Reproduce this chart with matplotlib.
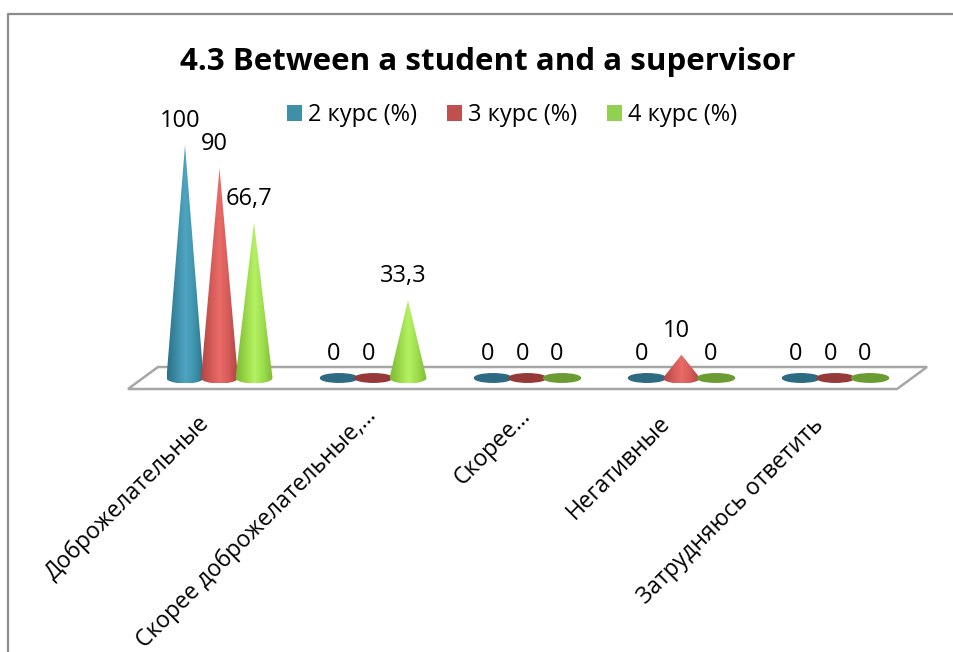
import numpy as np
import matplotlib
matplotlib.use("Agg")
import matplotlib.pyplot as plt
from matplotlib.colors import LinearSegmentedColormap
from matplotlib.patches import Ellipse, Patch, PathPatch, Polygon
from matplotlib.path import Path

plt.rcParams['font.family'] = ['Open Sans', 'DejaVu Sans']

# Данные
categories = ['Доброжелательные', 'Скорее доброжелательные,…', 'Скорее…', 'Негативные', 'Затрудняюсь ответить']
series_names = ['2 курс (%)', '3 курс (%)', '4 курс (%)']
kurs_2 = [100, 0, 0, 0, 0]
kurs_3 = [90, 0, 0, 10, 0]
kurs_4 = [66.7, 33.3, 0, 0, 0]
series = [kurs_2, kurs_3, kurs_4]
value_labels = [['100', '0', '0', '0', '0'],
                ['90', '0', '0', '10', '0'],
                ['66,7', '33,3', '0', '0', '0']]

W, H = 954, 652
PX_X = 154.0      # пикселей на категорию
PX_Y = 2.33       # пикселей на единицу значения
X0, Y0 = 219.5, 378.0
offset = 34.5 / PX_X
half_w = 18.5 / PX_X
base_h = 5.5 / PX_Y

# сдвиг подписей категорий, в пикселях
label_shift = [(-13, -33), (0, -26), (0, -26), (-14, -33), (-15, -35)]

legend_colors = ['#3f8fa9', '#c0504d', '#92d050']
shades = [['#2b7189', '#3d8ba6', '#4fa6c2', '#3f93ad', '#2b7189'],
          ['#b04542', '#cf5956', '#ea6b68', '#d55b58', '#b04542'],
          ['#7fba35', '#98d648', '#b4f264', '#9cdc4c', '#7fba35']]
flat_colors = ['#2d6b82', '#953a38', '#6b9c34']

fig = plt.figure(figsize=(W / 100, H / 100), dpi=100)
ax = fig.add_axes([0, 0, 1, 1])
ax.axis('off')


def px(x, y):
    return (x / W, 1 - y / H)


# Рамка диаграммы
fig.add_artist(plt.Line2D([8 / W, 8 / W, 1], [0, 1 - 14 / H, 1 - 14 / H],
                          color='#8c8c8c', lw=1.6))

# Пол
floor = Polygon([px(128, 389), px(158, 367), px(927, 367), px(897, 389)],
                closed=True, facecolor='white', edgecolor='#a6a6a6', lw=1.8,
                transform=fig.transFigure, zorder=1)
ax.add_patch(floor)


def draw_cone(xc, value, colors):
    cmap = LinearSegmentedColormap.from_list('cone', colors)
    grad = np.linspace(0, 1, 64).reshape(1, -1)
    t = np.linspace(np.pi, 2 * np.pi, 30)
    # контур: вершина + нижняя половина эллипса основания
    verts = [(xc, value)]
    verts += [(xc + half_w * np.cos(a), base_h * np.sin(a)) for a in t]
    verts.append((xc, value))
    im = ax.imshow(grad, extent=(xc - half_w, xc + half_w, -base_h, value),
                   cmap=cmap, aspect='auto', zorder=3, interpolation='bilinear')
    im.set_clip_path(PathPatch(Path(verts), transform=ax.transData))


for s, values in enumerate(series):
    for i, v in enumerate(values):
        xc = i + (s - 1) * offset
        if v > 0:
            draw_cone(xc, v, shades[s])
        else:
            ax.add_patch(Ellipse((xc, 0), 2 * half_w, 8.5 / PX_Y, color=flat_colors[s], zorder=3))
        ax.annotate(value_labels[s][i], (xc, v), xytext=(-5, 24), textcoords='offset pixels',
                    ha='center', va='center', fontsize=17, color='black', zorder=5)

# Подписи категорий
for i, name in enumerate(categories):
    ax.annotate(name, (i - 0.06, 0), xytext=label_shift[i], textcoords='offset pixels',
                rotation=45, rotation_mode='anchor', ha='right', va='top',
                fontsize=16.5, color='black', annotation_clip=False)

ax.set_xlim(-X0 / PX_X, (W - X0) / PX_X)
ax.set_ylim((Y0 - H) / PX_Y, Y0 / PX_Y)

fig.text(488 / W, 1 - 62 / H, '4.3 Between a student and a supervisor',
         ha='center', va='center', fontsize=22.5, fontweight='bold', color='black')

handles = [Patch(facecolor=c, edgecolor='none') for c in legend_colors]
fig.legend(handles, series_names, ncol=3, loc='center', bbox_to_anchor=(512 / W, 1 - 115 / H),
           frameon=False, fontsize=17, handlelength=0.65, handleheight=0.65,
           handletextpad=0.25, columnspacing=1.27)

fig.savefig('out.png', dpi=100, facecolor='white')
